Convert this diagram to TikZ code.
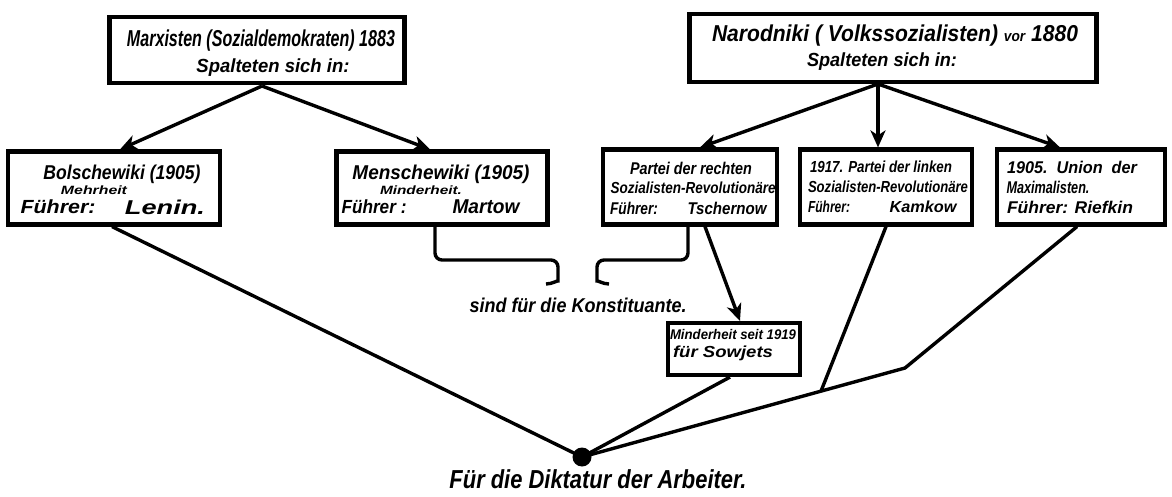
\documentclass[tikz,border=0pt]{standalone}
\usepackage{fontspec}
\setmainfont{Liberation Sans}
\usetikzlibrary{arrows.meta,calc}
\newcommand\tw[3]{\resizebox{#1pt}{\height}{\fontsize{#2}{#2}\selectfont #3}}
\tikzset{
  box/.style={draw,line width=4.2pt,inner sep=0pt},
  txt/.style={inner sep=0pt,font=\bfseries\itshape},
  conn/.style={line width=3.4pt},
  arr/.style={conn,-{Stealth[length=17pt,width=15pt,inset=5pt]}},
}
\begin{document}
\begin{tikzpicture}[x=1pt,y=-1pt]
\useasboundingbox (0,0) rectangle (1172,497);
% boxes
\node[box,minimum width=295,minimum height=66] (marx) at (257,50) {};
\node[box,minimum width=407,minimum height=68] (narod) at (893,48) {};
\node[box,minimum width=212,minimum height=73] (bol) at (114,188) {};
\node[box,minimum width=211,minimum height=73] (men) at (442,188) {};
\node[box,minimum width=174,minimum height=75] (rechts) at (690,187) {};
\node[box,minimum width=172,minimum height=75] (links) at (886,187) {};
\node[box,minimum width=168,minimum height=75] (union) at (1081,187) {};
\node[box,minimum width=132,minimum height=52] (minder) at (734,349) {};
% texts in boxes
\node[txt] (marxA) at (261,41) {\tw{268}{23}{Marxisten (Sozialdemokraten) 1883}};
\node[txt] (marxB) at (273,68) {\tw{153}{19}{Spalteten sich in:}};
\node[txt] (narodA) at (895,36) {\tw{366}{23}{Narodniki ( Volkssozialisten) {\fontsize{15}{15}\selectfont vor} 1880}};
\node[txt] (narodB) at (882,62) {\tw{150}{19}{Spalteten sich in:}};
\node[txt] (bolA) at (122,174) {\tw{157}{20}{Bolschewiki (1905)}};
\node[txt] (bolB) at (94,190) {\tw{66}{12}{Mehrheit}};
\node[txt] (bolC) at (58,207) {\tw{75}{19}{Führer:}};
\node[txt] (bolD) at (165,207) {\tw{80}{20}{Lenin.}};
\node[txt] (menA) at (441,174) {\tw{177}{20}{Menschewiki (1905)}};
\node[txt] (menB) at (421,190) {\tw{82}{12}{Minderheit.}};
\node[txt] (menC) at (374,207) {\tw{65}{19}{Führer :}};
\node[txt] (menD) at (486,207) {\tw{67}{20}{Martow}};
\node[txt] (rechA) at (691,168) {\tw{122}{17}{Partei der rechten}};
\node[txt] (rechB) at (693,188) {\tw{165}{16}{Sozialisten-Revolutionäre}};
\node[txt] (rechC) at (634,208) {\tw{48}{17}{Führer:}};
\node[txt] (rechD) at (727,208) {\tw{79}{17}{Tschernow}};
\node[txt] (linkA) at (881,167) {\tw{142}{16}{1917. Partei der linken}};
\node[txt] (linkB) at (888,187) {\tw{160}{16}{Sozialisten-Revolutionäre}};
\node[txt] (linkC) at (829,207) {\tw{42}{16}{Führer:}};
\node[txt] (linkD) at (923,207) {\tw{67}{16}{Kamkow}};
\node[txt] (uniA) at (1072,167) {\tw{130}{17}{1905.\ \ Union\ \ der}};
\node[txt] (uniB) at (1048,187) {\tw{83}{17}{Maximalisten.}};
\node[txt] (uniC) at (1070,207) {\tw{126}{17}{Führer: Riefkin}};
\node[txt] (minA) at (733,334) {\tw{126}{14}{Minderheit seit 1919}};
\node[txt] (minB) at (723,353) {\tw{100}{16}{für Sowjets}};
% free texts
\node[txt] (konst) at (578,305) {\tw{217}{20}{sind für die Konstituante.}};
\node[txt] (dikt) at (598,479) {\tw{297}{26}{Für die Diktatur der Arbeiter.}};
\coordinate (dot) at (582,457);
% arrows from top boxes
\coordinate (ms) at (262,86);
\coordinate (ns) at (878,84);
\draw[arr] (ms) -- ([xshift=6pt]bol.north);
\draw[arr] (ms) -- ([xshift=-12pt]men.north);
\draw[arr] (ns) -- ([xshift=10pt]rechts.north);
\draw[arr] (ns) -- ([xshift=-8pt]links.north);
\draw[arr] (ns) -- ([xshift=-21pt]union.north);
\draw[arr] ([xshift=15pt]rechts.south) -- ([xshift=6pt]minder.north);
% brackets
\draw[conn,rounded corners=7pt] ([xshift=-7pt]men.south) |- (558,260) -- (558,274) to[out=-90,in=0] (546,284);
\draw[conn,rounded corners=7pt] ([xshift=-2pt]rechts.south) |- (597,260) -- (597,274) to[out=-90,in=180] (609,284);
% lines to the dot
\coordinate (bend) at (905,368);
\coordinate (join) at ($(bend)!0.26!(dot)$);
\draw[conn] ([xshift=-2pt]bol.south) -- (dot);
\draw[conn] ([xshift=-4pt]minder.south) -- (dot);
\draw[conn] ([xshift=-4pt]union.south) -- (bend) -- (dot);
\draw[conn] (links.south) -- (join);
\fill (dot) circle (9.5pt);
\end{tikzpicture}
\end{document}
